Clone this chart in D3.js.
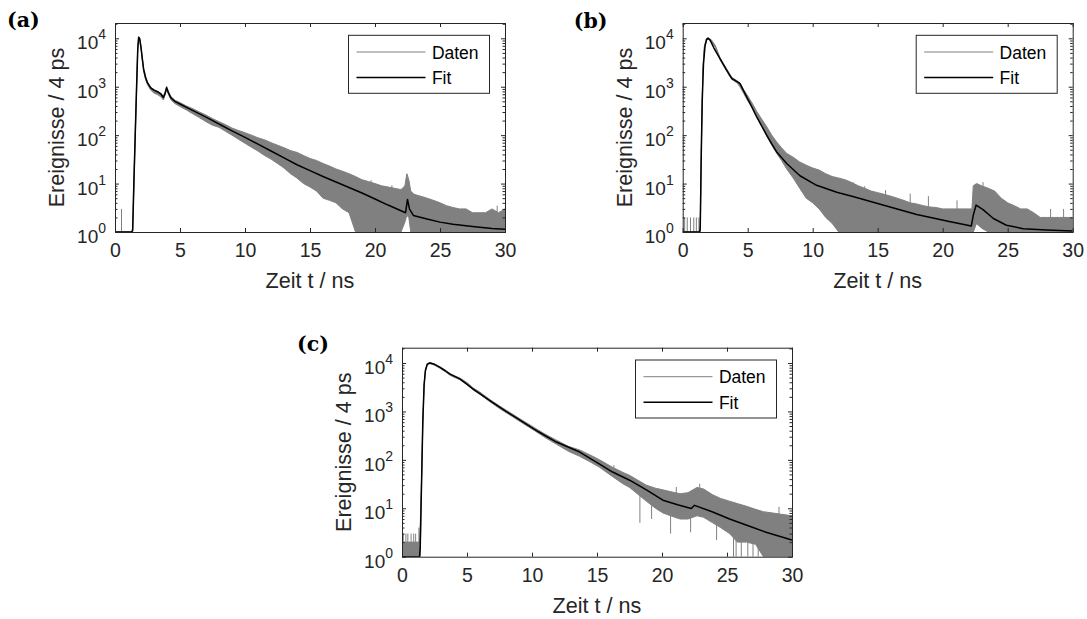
<!DOCTYPE html>
<html>
<head>
<meta charset="utf-8">
<script src="https://cdn.jsdelivr.net/npm/d3@7"></script>
<style>
  body { margin: 0; background: #fff; }
  svg { display: block; font-family: "Liberation Sans", Arial, sans-serif; }
</style>
</head>
<body>
<svg id="chart" width="1087" height="619"></svg>
<script>
const xTicks = [0, 5, 10, 15, 20, 25, 30];
const yTicks = [1, 10, 100, 1000, 10000];
const yExponents = ["0", "1", "2", "3", "4"];
const legendLabels = ["Daten", "Fit"];
const xTitle = "Zeit t / ns";
const yTitle = "Ereignisse / 4 ps";
const panelLabels = ["(a)", "(b)", "(c)"];

// (a) measured counts: lower / upper edge of the noisy trace
const tA = [0, 1.3, 1.36, 1.45, 1.55, 1.65, 1.75, 1.82, 1.9, 2.0, 2.1, 2.2, 2.35, 2.5, 2.75, 3.0, 3.3, 3.55, 3.72, 3.85, 3.97, 4.1, 4.3, 4.6, 5.0, 5.5, 6.0, 6.5, 7.0, 7.5, 8.0, 8.5, 9.0, 9.5, 10, 10.5, 11, 11.5, 12, 12.5, 13, 13.5, 14, 14.5, 15, 15.5, 16, 16.5, 17, 17.5, 18, 18.5, 19, 19.5, 20, 20.5, 21, 21.5, 22, 22.3, 22.45, 22.6, 22.75, 23, 23.5, 24, 24.5, 25, 25.5, 26, 26.5, 27, 27.5, 28, 28.5, 29, 29.5, 30];
const loA = [1, 1, 1, 7, 70, 600, 5500, 9800, 9000, 6000, 3500, 2100, 1400, 1100, 850, 740, 680, 610, 530, 680, 880, 700, 540, 450, 390, 330, 275, 230, 190, 160, 145, 120, 100, 82, 68, 56, 47, 38, 32, 26, 21, 16, 13, 10, 8.5, 7, 5, 4.5, 4, 3, 2.5, 1, 1, 1, 1, 1, 1, 1, 1, 1.6, 2.2, 2, 1, 1, 1, 1, 1, 1, 1, 1, 1, 1, 1, 1, 1, 1, 1, 1];
const hiA = [1, 1, 1.3, 11, 100, 900, 7000, 10800, 10000, 6800, 4000, 2400, 1650, 1250, 980, 870, 800, 720, 640, 780, 1020, 820, 630, 530, 470, 400, 350, 300, 260, 220, 190, 165, 140, 125, 112, 100, 88, 80, 70, 62, 55, 48, 44, 38, 33, 30, 26, 23, 20, 18, 16, 14, 12, 11, 10, 9, 8.5, 8, 7.5, 9, 16, 12, 7, 6, 5.5, 5, 4.5, 4, 3.5, 3.2, 3, 3, 2.5, 2.5, 2.5, 3, 2.5, 3];
const spikesA = [[0.5, 1, 3], [13.7, 30, 45], [19.7, 8, 11.7], [21.3, 7, 9.2], [23.8, 4, 5.3], [26.6, 2, 3], [29.4, 2, 3.5]];
const fitTA = [0, 1.3, 1.36, 1.45, 1.55, 1.65, 1.75, 1.82, 1.9, 2.0, 2.1, 2.2, 2.35, 2.5, 2.75, 3.0, 3.3, 3.55, 3.72, 3.85, 3.97, 4.1, 4.3, 4.6, 5, 6, 7, 8, 9, 10, 11, 12, 13, 14, 15, 16, 17, 18, 19, 20, 21, 22.35, 22.5, 22.65, 22.95, 24, 25, 26, 27.5, 29, 30];
const fitA = [1, 1, 1.1, 10, 90, 800, 6000, 10500, 9800, 6500, 3800, 2300, 1550, 1200, 950, 850, 780, 700, 600, 720, 950, 760, 590, 500, 440, 320, 235, 170, 123, 90, 65, 47, 34, 24.5, 18.5, 14, 10.8, 8.3, 6.4, 4.8, 3.6, 2.5, 4.7, 3.0, 2.2, 1.85, 1.6, 1.45, 1.3, 1.18, 1.14];

// (b)
const tB = [0, 1.3, 1.35, 1.45, 1.55, 1.65, 1.8, 1.95, 2.2, 2.5, 2.87, 3.1, 3.38, 3.6, 3.8, 4.02, 4.2, 4.4, 4.7, 4.92, 5.3, 5.69, 6.1, 6.46, 6.85, 7.23, 7.6, 8.0, 8.5, 9.0, 9.5, 10, 10.5, 11, 11.5, 12, 12.5, 13, 13.5, 14, 14.5, 15, 15.5, 16, 16.5, 17, 17.5, 18, 18.5, 19, 19.5, 20, 20.5, 21, 21.5, 22, 22.25, 22.35, 22.6, 23, 23.5, 24, 24.5, 25, 25.5, 26, 26.5, 27, 27.5, 28, 28.5, 29, 29.5, 30];
const loB = [1, 1, 1, 80, 1700, 5500, 9200, 9700, 8500, 6500, 3600, 2800, 2100, 1650, 1400, 1280, 1180, 1000, 720, 560, 380, 230, 150, 95, 62, 42, 30, 20, 13, 8, 5, 4, 3, 2, 1.5, 1, 1, 1, 1, 1, 1, 1, 1, 1, 1, 1, 1, 1, 1, 1, 1, 1, 1, 1, 1, 1, 1, 1, 1.5, 1.2, 1, 1, 1, 1, 1, 1, 1, 1, 1, 1, 1, 1, 1, 1];
const hiB = [1, 1, 2, 120, 2300, 6500, 9800, 10300, 9300, 7200, 4000, 3100, 2350, 1850, 1550, 1420, 1320, 1200, 860, 700, 480, 310, 210, 150, 100, 72, 55, 42, 35, 28, 24, 21, 19, 16, 14, 13, 12, 10.5, 9, 8, 7, 6.5, 6, 5.5, 5, 4.5, 4, 3.8, 3.5, 3.3, 3.2, 3, 3, 3, 3, 3, 3, 9, 10, 9, 8, 7, 5, 4, 3.5, 3, 3, 2.5, 2, 2, 2, 2, 2, 2];
const spikesB = [[0.15, 1, 2], [0.35, 1, 2], [0.6, 1, 2], [0.85, 1, 2], [1.05, 1, 2], [1.25, 1, 2], [13.1, 9, 10.7], [14.0, 7, 8.8], [15.6, 5, 7.3], [17.5, 3.5, 6.2], [18.9, 3, 5.5], [21.1, 2.8, 4.5], [23.1, 8, 10.7], [23.9, 6, 7], [28.3, 1.8, 3], [29.3, 1.8, 3]];
const fitTB = [0, 1.3, 1.35, 1.42, 1.5, 1.6, 1.72, 1.85, 1.95, 2.1, 2.4, 2.87, 3.38, 3.77, 4.02, 4.4, 4.92, 5.3, 5.69, 6.1, 6.46, 6.85, 7.23, 8.0, 9.02, 10.3, 11.85, 12.87, 13.64, 15.4, 18, 20.5, 22.2, 22.35, 22.57, 23.1, 23.9, 24.9, 26.2, 28, 30];
const fitB = [1, 1, 1.2, 30, 500, 3000, 7000, 9500, 10000, 9300, 6300, 3800, 2200, 1480, 1350, 1170, 615, 390, 240, 150, 100, 66, 45, 26, 14.5, 9.2, 6.6, 5.6, 4.9, 3.6, 2.3, 1.65, 1.33, 2.2, 3.6, 2.9, 1.9, 1.38, 1.17, 1.1, 1.05];

// (c)
const tC = [0, 1.3, 1.35, 1.4, 1.5, 1.6, 1.7, 1.8, 1.95, 2.15, 2.5, 2.92, 3.3, 3.69, 4.0, 4.45, 5.0, 5.48, 6.0, 6.76, 7.5, 8.5, 9.32, 10.2, 11, 11.88, 12.8, 13.67, 14.5, 15.2, 16.2, 17, 17.5, 18, 18.8, 19.5, 20.07, 21, 21.4, 22, 22.7, 23.2, 23.9, 24.5, 25.2, 25.8, 26.5, 27.2, 27.8, 28.5, 29.2, 30];
const loC = [1, 1, 1, 1, 25, 500, 3200, 6700, 9200, 9700, 9000, 7800, 6700, 5600, 5100, 4500, 3600, 2750, 2250, 1580, 1150, 780, 560, 400, 290, 210, 150, 118, 90, 70, 45, 32, 27, 21, 14, 10, 8, 6.5, 6, 6, 7, 6.5, 5, 4, 3, 2, 2, 1.8, 1, 1, 1, 1];
const hiC = [2, 2, 2, 4, 40, 700, 3800, 7300, 9800, 10300, 9600, 8400, 7200, 6100, 5500, 4900, 3950, 3050, 2500, 1760, 1300, 880, 640, 460, 340, 255, 190, 160, 125, 100, 70, 55, 48, 40, 30, 26, 24, 21, 20, 21, 27, 25, 19, 16, 14, 12.5, 11, 9.5, 8.5, 8, 7.5, 7];
const spikesC = [[0.1, 1, 3], [0.3, 1, 3], [0.45, 1, 3], [0.7, 1, 3], [0.9, 1, 3], [1.05, 1, 3], [1.3, 1, 4], [18.3, 5, 18], [19.2, 6, 12], [20.66, 3, 8], [22.2, 3.2, 8], [24.2, 2.2, 6], [25.5, 1, 3], [25.7, 1, 3], [26.1, 1, 3], [26.6, 1, 3], [27.0, 1, 3], [27.4, 1, 3], [16.3, 60, 77], [21.1, 18, 27.5], [22.9, 24, 32], [29.0, 6, 10.7]];
const fitTC = [0, 1.35, 1.4, 1.5, 1.6, 1.7, 1.8, 1.95, 2.15, 2.5, 2.92, 3.3, 3.69, 4.45, 5.48, 6.76, 8, 9.32, 10.5, 11.88, 13.67, 15.2, 16.2, 17.51, 18.8, 20.07, 21.2, 22.25, 22.5, 23.9, 25.2, 26.47, 28, 30];
const fitC = [1, 1, 1.5, 30, 600, 3500, 7000, 9500, 10000, 9400, 8100, 7000, 5900, 4700, 2900, 1670, 1000, 600, 380, 233, 145, 82, 56, 38, 24, 14.7, 11.8, 9.9, 11.5, 8.4, 6, 4.5, 3.2, 2.2];

const W = 390, H = 209;
const axisColor = "#262626";
const dataColor = "#808080";
const svg = d3.select("#chart");

const panels = [
  { key: "a", left: 115, top: 23, lx: -108, ly: 4, t: tA, lo: loA, hi: hiA, spikes: spikesA, fitT: fitTA, fit: fitA },
  { key: "b", left: 682.7, top: 23, lx: -109, ly: 5, t: tB, lo: loB, hi: hiB, spikes: spikesB, fitT: fitTB, fit: fitB },
  { key: "c", left: 402, top: 347.7, lx: -105, ly: 3, t: tC, lo: loC, hi: hiC, spikes: spikesC, fitT: fitTC, fit: fitC }
];

const minorTicks = [];
for (let k = 0; k <= 4; k++) {
  for (let m = 2; m <= 9; m++) {
    const v = m * Math.pow(10, k);
    if (v < 2.07e4) minorTicks.push(v);
  }
}

function drawPanel(p, i) {
  const g = svg.append("g").attr("transform", `translate(${p.left},${p.top})`);
  const x = d3.scaleLinear().domain([0, 30]).range([0, W]);
  const y = d3.scaleLog().domain([1, 2.07e4]).range([H, 0]).clamp(true);

  g.append("clipPath").attr("id", "clip-" + p.key)
    .append("rect").attr("width", W).attr("height", H);
  const plot = g.append("g").attr("clip-path", `url(#clip-${p.key})`);

  // Daten: noisy band
  const band = p.t.map((t, j) => ({ t: t, lo: p.lo[j], hi: p.hi[j] }));
  plot.append("path")
    .datum(band)
    .attr("d", d3.area().x(d => x(d.t)).y0(d => y(d.lo)).y1(d => y(d.hi)))
    .attr("fill", dataColor)
    .attr("stroke", dataColor)
    .attr("stroke-width", 1);

  plot.selectAll("line.spike")
    .data(p.spikes)
    .enter()
    .append("line")
    .attr("class", "spike")
    .attr("x1", d => x(d[0])).attr("x2", d => x(d[0]))
    .attr("y1", d => y(d[1])).attr("y2", d => y(d[2]))
    .attr("stroke", dataColor)
    .attr("stroke-width", 1);

  // Fit
  plot.append("path")
    .datum(p.fitT.map((t, j) => [t, p.fit[j]]))
    .attr("d", d3.line().x(d => x(d[0])).y(d => y(d[1])))
    .attr("fill", "none")
    .attr("stroke", "#000")
    .attr("stroke-width", 1.5)
    .attr("stroke-linejoin", "round");

  // frame
  g.append("rect")
    .attr("x", 0.5).attr("y", 0.5)
    .attr("width", W).attr("height", H)
    .attr("fill", "none")
    .attr("stroke", axisColor)
    .attr("stroke-width", 1);

  const axB = g.append("g")
    .attr("transform", `translate(0,${H})`)
    .call(d3.axisBottom(x).tickValues(xTicks).tickSize(-4).tickPadding(11).tickSizeOuter(0))
    .attr("color", axisColor)
    .attr("font-size", 19.5)
    .attr("font-family", "Liberation Sans, Arial, sans-serif");
  axB.select(".domain").remove();
  axB.selectAll("text").attr("fill", axisColor);

  const axT = g.append("g")
    .call(d3.axisTop(x).tickValues(xTicks).tickSize(-4).tickFormat("").tickSizeOuter(0))
    .attr("color", axisColor);
  axT.select(".domain").remove();

  [[d3.axisLeft, 0], [d3.axisRight, W]].forEach(([fn, pos]) => {
    const maj = g.append("g").attr("transform", `translate(${pos},0)`)
      .call(fn(y).tickValues(yTicks).tickSize(-4).tickFormat("").tickSizeOuter(0))
      .attr("color", axisColor);
    maj.select(".domain").remove();
    const mn = g.append("g").attr("transform", `translate(${pos},0)`)
      .call(fn(y).tickValues(minorTicks).tickSize(-2.5).tickFormat("").tickSizeOuter(0))
      .attr("color", axisColor);
    mn.select(".domain").remove();
  });

  // y tick labels 10^k
  g.selectAll("text.ylab")
    .data(yTicks)
    .enter()
    .append("text")
    .attr("class", "ylab")
    .attr("x", -9)
    .attr("y", d => y(d) + 11)
    .attr("text-anchor", "end")
    .attr("font-size", 19)
    .attr("fill", axisColor)
    .each(function (d, k) {
      const t = d3.select(this);
      t.append("tspan").text("10");
      t.append("tspan").attr("dy", -10).attr("font-size", 14).text(yExponents[k]);
    });

  // axis titles
  g.append("text")
    .attr("x", W / 2).attr("y", H + 56)
    .attr("text-anchor", "middle")
    .attr("font-size", 21.6)
    .attr("fill", axisColor)
    .text(xTitle);

  g.append("text")
    .attr("transform", `translate(-51,${H / 2}) rotate(-90)`)
    .attr("text-anchor", "middle")
    .attr("font-size", 21.6)
    .attr("fill", axisColor)
    .text(yTitle);

  // panel letter
  g.append("text")
    .attr("x", p.lx).attr("y", p.ly)
    .attr("font-family", "DejaVu Serif, serif")
    .attr("font-weight", "bold")
    .attr("font-size", 20.5)
    .attr("fill", "#000")
    .text(panelLabels[i]);

  // legend
  const lw = 141, lh = 58;
  const leg = g.append("g").attr("transform", `translate(${W - 15.5 - lw},12.3)`);
  leg.append("rect")
    .attr("width", lw).attr("height", lh)
    .attr("fill", "#fff")
    .attr("stroke", axisColor)
    .attr("stroke-width", 1);
  const items = leg.selectAll("g.item")
    .data(legendLabels)
    .enter()
    .append("g")
    .attr("class", "item")
    .attr("transform", (_, k) => `translate(0,${16.7 + k * 25.6})`);
  items.append("line")
    .attr("x1", 8).attr("x2", 77)
    .attr("stroke", (_, k) => k === 0 ? dataColor : "#000")
    .attr("stroke-width", (_, k) => k === 0 ? 1 : 1.5);
  items.append("text")
    .attr("x", 83.4).attr("y", 6.5)
    .attr("font-size", 17.5)
    .attr("fill", "#000")
    .text(d => d);
}

panels.forEach(drawPanel);
</script>
</body>
</html>
